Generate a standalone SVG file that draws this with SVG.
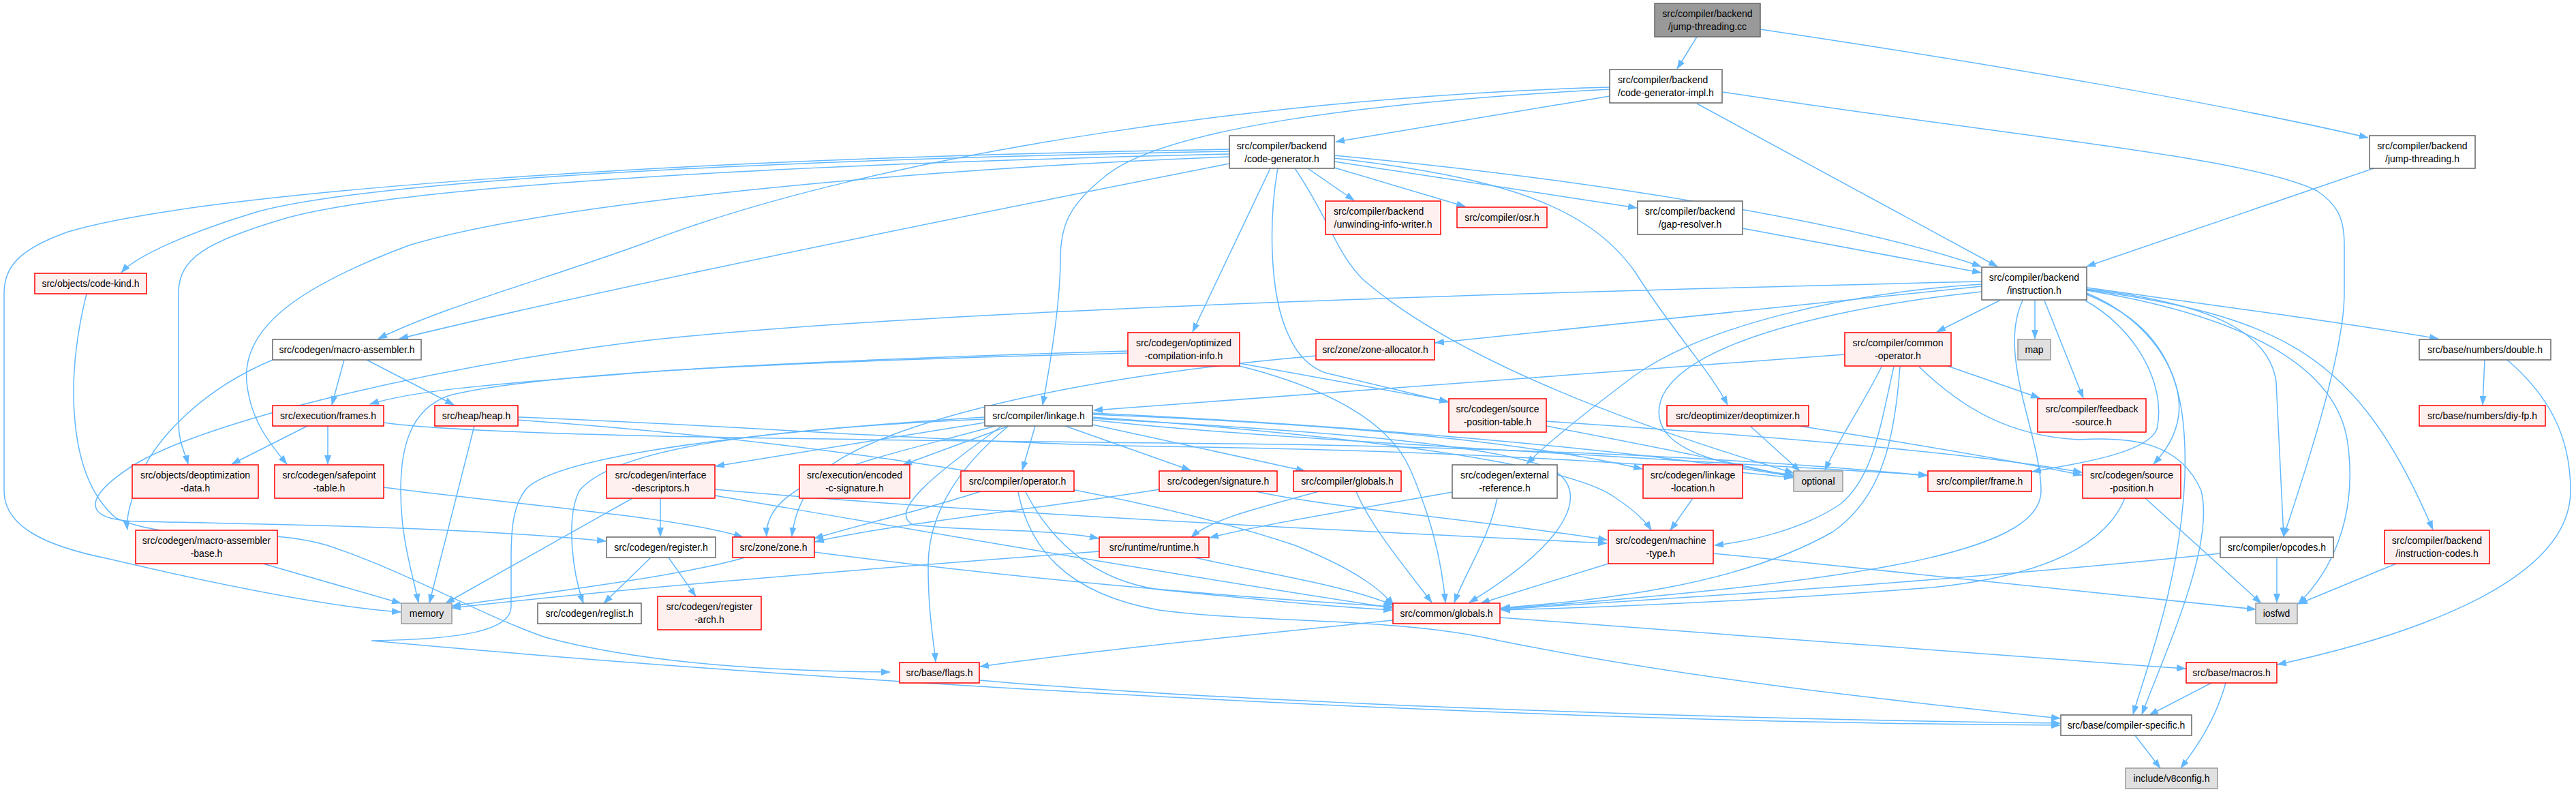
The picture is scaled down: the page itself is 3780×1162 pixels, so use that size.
<svg xmlns="http://www.w3.org/2000/svg" width="3780" height="1162" viewBox="0 0 3780 1162">
<defs>
<marker id="a" markerWidth="14" markerHeight="10" refX="13" refY="5" orient="auto" markerUnits="userSpaceOnUse"><path d="M0,0L14,5L0,10z" fill="#63b8ff"/></marker>
<style>
rect.n{stroke-width:1.5}
.w rect{fill:#fff;stroke:#666}
.r rect{fill:#fff0f0;stroke:#f00}
.g rect{fill:#e0e0e0;stroke:#999}
.root rect{fill:#999;stroke:#666}
text{font-family:"Liberation Sans",Arial,sans-serif;font-size:14px;fill:#000}
.c{text-anchor:middle}
#edges path{fill:none;stroke:#63b8ff;stroke-width:1.5;marker-end:url(#a)}
</style>
</defs>
<rect width="3780" height="1162" fill="#fff"/>
<g id="edges">
<path d="M2490,54 L2461,101"/>
<path d="M2583,43 C2900,90 3250,150 3475,202"/>
<path d="M2362,141 L1960,208"/>
<path d="M2362,128 C1900,140 1300,220 945,357 C800,410 650,450 555,497"/>
<path d="M2362,131 C2000,150 1700,190 1620,260 C1570,300 1556,330 1556,380 C1556,450 1540,540 1530,594"/>
<path d="M2490,152 L2931,391"/>
<path d="M2528,135 C2950,200 3300,230 3400,280 C3430,300 3440,320 3440,360 L3440,430 C3440,520 3380,700 3351,787"/>
<path d="M1804,222 C1100,235 550,265 380,310 C280,340 200,375 178,400"/>
<path d="M1804,219 C1000,232 300,280 100,340 C30,365 6,390 6,430 L6,720 C6,770 60,800 160,820 C330,860 480,890 588,898"/>
<path d="M1804,226 C1200,240 600,270 420,320 C300,355 262,380 262,430 L262,620 C262,650 272,665 276,681"/>
<path d="M1804,230 C1300,250 800,300 600,360 C440,420 355,480 362,560 C367,615 395,650 421,681"/>
<path d="M1804,240 C1500,300 900,420 586,497"/>
<path d="M1919,247 L1987,294"/>
<path d="M1958,246 L2150,303"/>
<path d="M1958,237 L2402,305"/>
<path d="M1958,228 C2300,260 2700,320 2907,391"/>
<path d="M1958,232 C2200,260 2330,300 2400,400 C2450,480 2510,545 2535,594"/>
<path d="M1864,247 L1750,487"/>
<path d="M1875,247 C1862,320 1862,430 1890,490 C1905,525 1925,540 1945,547 L2125,590"/>
<path d="M1900,247 C1950,320 1960,370 2000,410 C2150,540 2450,640 2632,694"/>
<path d="M2557,335 L2907,400"/>
<path d="M3483,247 L3062,391"/>
<path d="M2986,441 L2986,497"/>
<path d="M3000,441 L3057,584"/>
<path d="M3062,422 C3300,455 3450,475 3578,497"/>
<path d="M2934,441 L2842,487"/>
<path d="M2908,420 L2106,503"/>
<path d="M2908,413 C2400,425 1400,450 945,500 C620,540 300,620 200,680 C120,730 120,762 200,765 C450,770 700,775 889,794"/>
<path d="M2908,417 C2700,430 2500,480 2400,550 C2320,610 2270,650 2240,681"/>
<path d="M2908,428 C2700,450 2480,500 2440,580 C2410,650 2500,680 2632,697"/>
<path d="M3060,441 C3130,480 3180,560 3165,630 C3150,665 3050,680 2982,692"/>
<path d="M3062,430 C3160,470 3210,560 3195,620 C3188,650 3170,670 3160,681"/>
<path d="M3062,424 C3250,445 3330,490 3340,560 L3351,787"/>
<path d="M3062,426 C3300,465 3430,540 3445,650 C3460,760 3420,840 3372,886"/>
<path d="M3062,425 C3350,465 3460,520 3570,777"/>
<path d="M3062,432 C3180,480 3210,560 3206,700 C3200,850 3150,980 3130,1048"/>
<path d="M2968,441 C2930,520 2995,640 2995,720 C2995,800 2800,850 2202,893"/>
<path d="M127,431 C95,560 100,700 170,760 C260,800 380,770 480,800 C600,840 700,900 800,935 C950,975 1150,985 1306,986"/>
<path d="M505,528 L487,594"/>
<path d="M538,528 L666,594"/>
<path d="M400,528 C300,570 230,640 205,700 C190,740 185,760 187,777"/>
<path d="M1655,515 C1300,525 1000,540 900,550 C700,565 600,575 543,593"/>
<path d="M1655,518 C1200,530 800,545 660,580 C600,600 588,660 588,720 C588,790 605,840 614,884"/>
<path d="M1819,533 L2125,589"/>
<path d="M1819,537 C1950,570 2040,620 2070,690 C2100,760 2115,820 2121,884"/>
<path d="M1931,522 C1500,560 1250,640 1200,700 C1175,730 1165,760 1162,787"/>
<path d="M2707,520 C2300,550 1900,580 1605,602"/>
<path d="M2858,537 L2993,584"/>
<path d="M2761,538 C2730,600 2700,640 2678,690"/>
<path d="M2779,538 C2760,620 2750,700 2700,740 C2640,780 2560,795 2516,800"/>
<path d="M2788,538 C2780,650 2760,730 2690,780 C2550,860 2350,880 2203,892"/>
<path d="M2816,538 C2880,600 2950,640 3050,645 C3130,640 3200,650 3230,720 C3250,800 3180,950 3143,1048"/>
<path d="M3646,528 L3643,594"/>
<path d="M3679,528 C3740,580 3772,640 3772,720 C3772,850 3550,930 3342,975"/>
<path d="M1445,620 L1050,684"/>
<path d="M1480,625 L1325,682"/>
<path d="M1519,625 L1500,690"/>
<path d="M1563,625 L1747,690"/>
<path d="M1603,623 L1915,691"/>
<path d="M1603,608 C1900,620 2200,640 2410,688"/>
<path d="M1603,612 C2000,640 2300,680 2370,730 C2400,750 2415,765 2423,778"/>
<path d="M1603,616 C1800,640 2300,665 2828,697"/>
<path d="M1603,606 C2000,625 2400,660 2631,699"/>
<path d="M1460,625 C1300,670 1120,700 1125,787"/>
<path d="M1445,615 C1100,630 900,660 850,720 C830,760 840,840 856,885"/>
<path d="M1470,625 C1380,690 1300,750 1340,770 C1420,780 1540,775 1612,790"/>
<path d="M1480,625 C1400,690 1362,760 1362,830 C1362,900 1370,940 1373,971"/>
<path d="M1603,614 C1900,630 2200,650 2280,690 C2330,720 2310,790 2156,884"/>
<path d="M1445,612 C1000,640 800,680 770,720 C752,745 750,780 750,820 L750,890 C750,925 680,938 545,940 C1200,1000 2200,1060 3023,1064"/>
<path d="M2269,618 C2600,640 2900,665 3055,693"/>
<path d="M2269,625 C2450,660 2550,680 2631,700"/>
<path d="M2568,625 L2641,691"/>
<path d="M2640,625 C2800,650 2950,675 3055,697"/>
<path d="M451,625 L340,681"/>
<path d="M481,625 L481,681"/>
<path d="M563,620 C700,640 1200,645 1890,652 C2300,660 2600,675 2828,698"/>
<path d="M696,625 L630,885"/>
<path d="M760,612 C1100,625 1400,650 1700,655 C2100,660 2450,680 2631,701"/>
<path d="M760,616 C1100,640 1600,700 1900,800 C2000,840 2030,870 2045,888"/>
<path d="M969,731 L969,787"/>
<path d="M928,731 L654,885"/>
<path d="M1049,718 C1400,750 1900,775 2358,797"/>
<path d="M1049,727 C1300,770 1700,840 2043,892"/>
<path d="M1439,721 C1350,750 1260,770 1195,790"/>
<path d="M1505,722 C1540,790 1600,850 1700,865 C1850,880 1950,890 2043,895"/>
<path d="M1494,722 C1510,800 1560,870 1700,895 C1850,915 2050,905 2200,940 C2500,1000 2800,1030 3023,1054"/>
<path d="M1702,718 C1500,750 1300,770 1196,795"/>
<path d="M1843,721 C1950,745 2150,760 2358,792"/>
<path d="M1935,721 C1850,745 1780,760 1748,788"/>
<path d="M1990,721 C2010,770 2060,830 2101,884"/>
<path d="M2197,731 C2185,790 2150,840 2134,884"/>
<path d="M2131,722 C2000,745 1850,770 1775,789"/>
<path d="M2484,731 L2451,778"/>
<path d="M3148,731 L3318,885"/>
<path d="M3118,731 C3090,800 3000,845 2835,862 C2600,880 2400,890 2203,895"/>
<path d="M955,818 L886,885"/>
<path d="M981,818 L1021,875"/>
<path d="M1093,818 C1000,845 800,870 663,889"/>
<path d="M1195,810 C1500,850 1800,875 2043,890"/>
<path d="M1613,809 C1200,840 900,865 663,892"/>
<path d="M1753,818 C1850,840 1980,860 2044,888"/>
<path d="M2360,827 L2173,885"/>
<path d="M2514,812 C2800,840 3100,870 3310,894"/>
<path d="M3341,818 L3341,884"/>
<path d="M3258,812 C2900,850 2500,875 2203,894"/>
<path d="M3516,827 L3373,886"/>
<path d="M2044,910 C1800,935 1600,955 1438,978"/>
<path d="M2201,906 C2600,935 2900,960 3207,981"/>
<path d="M1437,998 C1800,1030 2500,1055 3023,1061"/>
<path d="M3245,1002 L3154,1049"/>
<path d="M3266,1002 C3250,1060 3220,1100 3200,1127"/>
<path d="M3133,1079 L3170,1127"/>
<path d="M386,827 L588,885"/>
<path d="M563,715 C800,745 1000,760 1090,788"/>
</g>
<g id="n1" class="root"><rect class="n" x="2428" y="5" width="155" height="49"/><text class="c" x="2505.5" y="24.5">src/compiler/backend</text><text class="c" x="2505.5" y="43.5">/jump-threading.cc</text></g>
<g id="n2" class="w"><rect class="n" x="2362" y="102" width="165" height="49"/><text x="2374" y="121.5">src/compiler/backend</text><text class="c" x="2444.5" y="140.5">/code-generator-impl.h</text></g>
<g id="n3" class="w"><rect class="n" x="3477" y="199" width="155" height="48"/><text class="c" x="3554.5" y="218.5">src/compiler/backend</text><text class="c" x="3554.5" y="237.5">/jump-threading.h</text></g>
<g id="n4" class="w"><rect class="n" x="1804" y="199" width="154" height="48"/><text class="c" x="1881" y="218.5">src/compiler/backend</text><text class="c" x="1881" y="237.5">/code-generator.h</text></g>
<g id="n5" class="r"><rect class="n" x="51" y="401" width="164" height="30"/><text class="c" x="133" y="421">src/objects/code-kind.h</text></g>
<g id="n6" class="r"><rect class="n" x="1945" y="295" width="169" height="49"/><text x="1957" y="314.5">src/compiler/backend</text><text class="c" x="2029.5" y="333.5">/unwinding-info-writer.h</text></g>
<g id="n7" class="r"><rect class="n" x="2138" y="304" width="132" height="30"/><text class="c" x="2204" y="324">src/compiler/osr.h</text></g>
<g id="n8" class="w"><rect class="n" x="2403" y="295" width="154" height="49"/><text class="c" x="2480" y="314.5">src/compiler/backend</text><text class="c" x="2480" y="333.5">/gap-resolver.h</text></g>
<g id="n9" class="w"><rect class="n" x="2908" y="392" width="154" height="48"/><text class="c" x="2985" y="411.5">src/compiler/backend</text><text class="c" x="2985" y="430.5">/instruction.h</text></g>
<g id="n10" class="w"><rect class="n" x="400" y="498" width="218" height="30"/><text class="c" x="509" y="518">src/codegen/macro-assembler.h</text></g>
<g id="n11" class="r"><rect class="n" x="1655" y="488" width="164" height="49"/><text class="c" x="1737" y="507.5">src/codegen/optimized</text><text class="c" x="1737" y="526.5">-compilation-info.h</text></g>
<g id="n12" class="r"><rect class="n" x="1931" y="498" width="174" height="30"/><text class="c" x="2018" y="518">src/zone/zone-allocator.h</text></g>
<g id="n13" class="r"><rect class="n" x="2707" y="488" width="156" height="49"/><text class="c" x="2785" y="507.5">src/compiler/common</text><text class="c" x="2785" y="526.5">-operator.h</text></g>
<g id="n14" class="g"><rect class="n" x="2961" y="498" width="48" height="30"/><text class="c" x="2985" y="518">map</text></g>
<g id="n15" class="w"><rect class="n" x="3550" y="498" width="193" height="30"/><text class="c" x="3646.5" y="518">src/base/numbers/double.h</text></g>
<g id="n16" class="r"><rect class="n" x="400" y="595" width="163" height="30"/><text class="c" x="481.5" y="615">src/execution/frames.h</text></g>
<g id="n17" class="r"><rect class="n" x="638" y="595" width="122" height="30"/><text class="c" x="699" y="615">src/heap/heap.h</text></g>
<g id="n18" class="w"><rect class="n" x="1445" y="595" width="158" height="30"/><text class="c" x="1524" y="615">src/compiler/linkage.h</text></g>
<g id="n19" class="r"><rect class="n" x="2126" y="585" width="143" height="49"/><text class="c" x="2197.5" y="604.5">src/codegen/source</text><text class="c" x="2197.5" y="623.5">-position-table.h</text></g>
<g id="n20" class="r"><rect class="n" x="2446" y="595" width="208" height="30"/><text class="c" x="2550" y="615">src/deoptimizer/deoptimizer.h</text></g>
<g id="n21" class="r"><rect class="n" x="2990" y="585" width="159" height="49"/><text class="c" x="3069.5" y="604.5">src/compiler/feedback</text><text class="c" x="3069.5" y="623.5">-source.h</text></g>
<g id="n22" class="r"><rect class="n" x="3550" y="595" width="185" height="30"/><text class="c" x="3642.5" y="615">src/base/numbers/diy-fp.h</text></g>
<g id="n23" class="r"><rect class="n" x="194" y="682" width="185" height="49"/><text class="c" x="286.5" y="701.5">src/objects/deoptimization</text><text class="c" x="286.5" y="720.5">-data.h</text></g>
<g id="n24" class="r"><rect class="n" x="403" y="682" width="160" height="49"/><text class="c" x="483" y="701.5">src/codegen/safepoint</text><text class="c" x="483" y="720.5">-table.h</text></g>
<g id="n25" class="r"><rect class="n" x="890" y="682" width="159" height="49"/><text class="c" x="969.5" y="701.5">src/codegen/interface</text><text class="c" x="969.5" y="720.5">-descriptors.h</text></g>
<g id="n26" class="r"><rect class="n" x="1173" y="682" width="162" height="49"/><text class="c" x="1254" y="701.5">src/execution/encoded</text><text class="c" x="1254" y="720.5">-c-signature.h</text></g>
<g id="n27" class="r"><rect class="n" x="1410" y="691" width="166" height="30"/><text class="c" x="1493" y="711">src/compiler/operator.h</text></g>
<g id="n28" class="r"><rect class="n" x="1701" y="691" width="173" height="30"/><text class="c" x="1787.5" y="711">src/codegen/signature.h</text></g>
<g id="n29" class="r"><rect class="n" x="1898" y="691" width="158" height="30"/><text class="c" x="1977" y="711">src/compiler/globals.h</text></g>
<g id="n30" class="w"><rect class="n" x="2131" y="682" width="154" height="49"/><text class="c" x="2208" y="701.5">src/codegen/external</text><text class="c" x="2208" y="720.5">-reference.h</text></g>
<g id="n31" class="r"><rect class="n" x="2411" y="682" width="146" height="49"/><text class="c" x="2484" y="701.5">src/codegen/linkage</text><text class="c" x="2484" y="720.5">-location.h</text></g>
<g id="n32" class="g"><rect class="n" x="2632" y="691" width="72" height="30"/><text class="c" x="2668" y="711">optional</text></g>
<g id="n33" class="r"><rect class="n" x="2829" y="691" width="152" height="30"/><text class="c" x="2905" y="711">src/compiler/frame.h</text></g>
<g id="n34" class="r"><rect class="n" x="3056" y="682" width="144" height="49"/><text class="c" x="3128" y="701.5">src/codegen/source</text><text class="c" x="3128" y="720.5">-position.h</text></g>
<g id="n35" class="r"><rect class="n" x="199" y="778" width="208" height="49"/><text class="c" x="303" y="797.5">src/codegen/macro-assembler</text><text class="c" x="303" y="816.5">-base.h</text></g>
<g id="n36" class="w"><rect class="n" x="890" y="788" width="160" height="30"/><text class="c" x="970" y="808">src/codegen/register.h</text></g>
<g id="n37" class="r"><rect class="n" x="1075" y="788" width="120" height="30"/><text class="c" x="1135" y="808">src/zone/zone.h</text></g>
<g id="n38" class="r"><rect class="n" x="1613" y="788" width="161" height="30"/><text class="c" x="1693.5" y="808">src/runtime/runtime.h</text></g>
<g id="n39" class="r"><rect class="n" x="2360" y="778" width="154" height="49"/><text class="c" x="2437" y="797.5">src/codegen/machine</text><text class="c" x="2437" y="816.5">-type.h</text></g>
<g id="n40" class="w"><rect class="n" x="3258" y="788" width="166" height="30"/><text class="c" x="3341" y="808">src/compiler/opcodes.h</text></g>
<g id="n41" class="r"><rect class="n" x="3499" y="778" width="154" height="49"/><text class="c" x="3576" y="797.5">src/compiler/backend</text><text class="c" x="3576" y="816.5">/instruction-codes.h</text></g>
<g id="n42" class="g"><rect class="n" x="589" y="885" width="74" height="30"/><text class="c" x="626" y="905">memory</text></g>
<g id="n43" class="w"><rect class="n" x="789" y="885" width="152" height="30"/><text class="c" x="865" y="905">src/codegen/reglist.h</text></g>
<g id="n44" class="r"><rect class="n" x="965" y="875" width="152" height="49"/><text class="c" x="1041" y="894.5">src/codegen/register</text><text class="c" x="1041" y="913.5">-arch.h</text></g>
<g id="n45" class="r"><rect class="n" x="2044" y="885" width="157" height="30"/><text class="c" x="2122.5" y="905">src/common/globals.h</text></g>
<g id="n46" class="g"><rect class="n" x="3310" y="885" width="61" height="30"/><text class="c" x="3340.5" y="905">iosfwd</text></g>
<g id="n47" class="r"><rect class="n" x="1320" y="972" width="117" height="30"/><text class="c" x="1378.5" y="992">src/base/flags.h</text></g>
<g id="n48" class="r"><rect class="n" x="3208" y="972" width="133" height="30"/><text class="c" x="3274.5" y="992">src/base/macros.h</text></g>
<g id="n49" class="w"><rect class="n" x="3024" y="1049" width="192" height="30"/><text class="c" x="3120" y="1069">src/base/compiler-specific.h</text></g>
<g id="n50" class="g"><rect class="n" x="3119" y="1127" width="135" height="30"/><text class="c" x="3186.5" y="1147">include/v8config.h</text></g>
</svg>
